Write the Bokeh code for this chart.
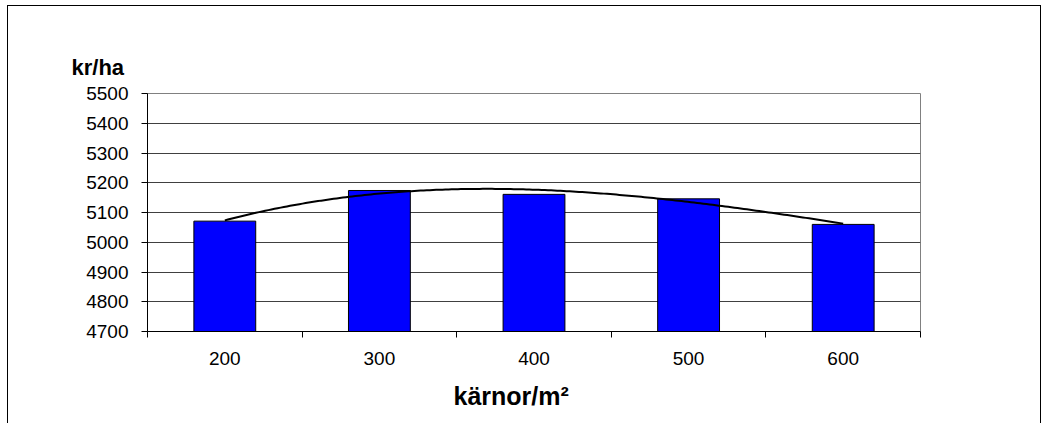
import numpy as np
from bokeh.plotting import figure
from bokeh.models import Range1d, FixedTicker, ColumnDataSource, Title
from bokeh.embed import file_html
from bokeh.resources import INLINE

# ---- data ----
categories = ["200", "300", "400", "500", "600"]
values = [5071, 5174, 5161, 5146, 5060]
y_ticks = [4700, 4800, 4900, 5000, 5100, 5200, 5300, 5400, 5500]
x_title = "kärnor/m²"
y_title = "kr/ha"

FONT = "Liberation Sans"

pos = list(range(1, len(categories) + 1))
src = ColumnDataSource(dict(x=pos, top=values, cat=categories))

p = figure(width=1034, height=418, output_backend="svg", toolbar_location=None,
           x_range=Range1d(0.5, len(categories) + 0.5),
           y_range=Range1d(y_ticks[0], y_ticks[-1]),
           min_border_left=139, min_border_right=122,
           min_border_top=87, min_border_bottom=93)
p.styles = {"border-left": "1px solid black", "border-top": "1px solid black",
            "border-right": "1px solid black",
            "margin-left": "7px", "margin-top": "5px"}
p.background_fill_color = "white"
p.border_fill_color = "white"
p.outline_line_color = "#808080"
p.outline_line_width = 1

p.vbar(x="x", top="top", bottom=y_ticks[0], width=0.4, source=src,
       fill_color="#0000FF", line_color="black", line_width=1)

# polynomial (order 3) trendline fitted to the bar values
coef = np.polyfit(pos, values, 3)
xs = np.linspace(pos[0], pos[-1], 200)
p.line(xs, np.polyval(coef, xs), line_color="black", line_width=2)

# x axis: labels at centres, tick marks between categories
xa = p.xaxis[0]
xa.ticker = FixedTicker(ticks=pos, minor_ticks=[v - 0.5 for v in pos] + [pos[-1] + 0.5])
xa.major_label_overrides = {v: c for v, c in zip(pos, categories)}
xa.major_tick_out = 0
xa.major_tick_in = 0
xa.minor_tick_out = 6
xa.minor_tick_in = 0
xa.minor_tick_line_color = "black"
xa.axis_line_color = "black"
xa.major_label_text_font = FONT
xa.major_label_text_font_size = "19px"
xa.major_label_text_color = "black"
xa.major_label_standoff = 14

ya = p.yaxis[0]
ya.ticker = FixedTicker(ticks=y_ticks, minor_ticks=[])
ya.major_tick_out = 6
ya.major_tick_in = 0
ya.major_tick_line_color = "black"
ya.axis_line_color = "black"
ya.major_label_text_font = FONT
ya.major_label_text_font_size = "19px"
ya.major_label_text_color = "black"
ya.major_label_standoff = 13

p.xgrid.visible = False
p.ygrid.grid_line_color = "#404040"
p.ygrid.grid_line_width = 1

p.add_layout(Title(text=y_title, align="left", offset=-76, standoff=27,
                   text_font=FONT, text_font_style="bold", text_font_size="22px",
                   text_color="black"), "above")
p.add_layout(Title(text=x_title, align="left", offset=306, standoff=24,
                   text_font=FONT, text_font_style="bold", text_font_size="25px",
                   text_color="black"), "below")

open("out.html", "w").write(file_html(p, INLINE))
